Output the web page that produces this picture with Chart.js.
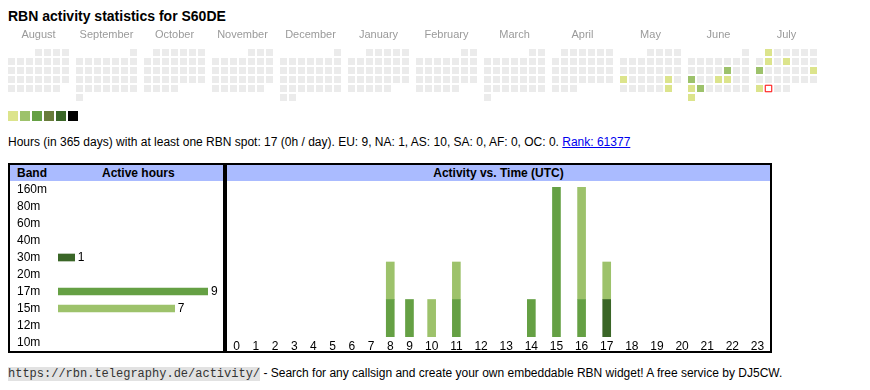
<!DOCTYPE html>
<html>
<head>
<meta charset="utf-8">
<title>RBN activity statistics for S60DE</title>
<script src="https://cdn.jsdelivr.net/npm/chart.js@4.4.1/dist/chart.umd.min.js"></script>
<style>
  body { margin: 0; background: #fff; font-family: "Liberation Sans", Arial, sans-serif; color: #000; }
  #page { position: relative; width: 870px; height: 390px; overflow: hidden; }
  h1 { position: absolute; left: 8px; top: 8px; margin: 0; font-size: 14px; line-height: 16px; font-weight: bold; white-space: nowrap; }
  canvas { position: absolute; display: block; }
  #calendarChart { left: 0; top: 0; }
  .key { position: absolute; top: 111px; width: 10px; height: 10px; }
  #info { position: absolute; left: 8px; top: 135px; font-size: 12px; line-height: 14px; white-space: nowrap; }
  #info a { color: #0000ee; }
  .box { position: absolute; top: 163px; height: 186px; border: 2px solid #000; }
  #bandBox { left: 8px; width: 213px; }
  #timeBox { left: 225px; width: 543px; }
  .head { position: absolute; left: 0; right: 0; top: 0; height: 16px; background: #aabbff; font-size: 12px; line-height: 16px; font-weight: bold; white-space: nowrap; }
  .head span { position: absolute; top: 0; }
  .box canvas { left: 0; top: 16px; }
  #footer { position: absolute; left: 8px; top: 365px; font-size: 12px; line-height: 16px; white-space: nowrap; }
  #footer code { font-family: "Liberation Mono", "Courier New", monospace; font-size: 12px; background: #e2e2e2; color: #333; }
</style>
</head>
<body>
<div id="page">
  <h1>RBN activity statistics for S60DE</h1>
  <canvas id="calendarChart" width="870" height="110"></canvas>
  <div id="keyRow"></div>
  <div id="info">Hours (in 365 days) with at least one RBN spot: 17 (0h / day). EU: 9, NA: 1, AS: 10, SA: 0, AF: 0, OC: 0. <a href="#">Rank: 61377</a></div>

  <div class="box" id="bandBox">
    <div class="head"><span style="left:7px">Band</span><span style="left:128px;width:0;text-align:center"><span style="position:relative;left:-36px">Active hours</span></span></div>
    <canvas id="bandChart" width="213" height="170"></canvas>
  </div>

  <div class="box" id="timeBox">
    <div class="head" style="text-align:center">Activity vs. Time (UTC)</div>
    <canvas id="timeChart" width="543" height="170"></canvas>
  </div>

  <div id="footer"><code>https://rbn.telegraphy.de/activity/</code> - Search for any callsign and create your own embeddable RBN widget! A free service by DJ5CW.</div>
</div>

<script>
// calendar (Aug 2024 - Jul 2025)
const months = ['August', 'September', 'October', 'November', 'December', 'January',
  'February', 'March', 'April', 'May', 'June', 'July'];
const levelColors = ['#dce48c', '#9dc26b', '#65a044', '#687c3a', '#3a6627', '#000000'];
const activeDays = ['2025-05-19', '2025-05-24', '2025-05-31', '2025-06-13', '2025-06-16',
  '2025-06-19', '2025-06-20', '2025-06-23', '2025-06-24', '2025-06-30', '2025-07-01',
  '2025-07-08', '2025-07-10', '2025-07-14', '2025-07-20', '2025-07-28'];
const activeLevels = [1, 1, 1, 2, 2, 1, 1, 1, 2, 1, 1, 1, 1, 2, 1, 1];
const todayDate = '2025-07-29';

// bands
const bands = ['160m', '80m', '60m', '40m', '30m', '20m', '17m', '15m', '12m', '10m'];
const bandHours = [0, 0, 0, 0, 1, 0, 9, 7, 0, 0];
const bandColors = ['#c9d77a', '#b5cf72', '#a7c76c', '#8fb35a', '#3a6627', '#557f35', '#65a044', '#9dc26b', '#bcd47c', '#cddc84'];

// activity vs. time, per band (stack order bottom -> top)
const hours = ['0', '1', '2', '3', '4', '5', '6', '7', '8', '9', '10', '11',
  '12', '13', '14', '15', '16', '17', '18', '19', '20', '21', '22', '23'];
const hours30m = [0, 0, 0, 0, 0, 0, 0, 0, 0, 0, 0, 0, 0, 0, 0, 0, 0, 1, 0, 0, 0, 0, 0, 0];
const hours17m = [0, 0, 0, 0, 0, 0, 0, 0, 1, 1, 0, 1, 0, 0, 1, 4, 1, 0, 0, 0, 0, 0, 0, 0];
const hours15m = [0, 0, 0, 0, 0, 0, 0, 0, 1, 0, 1, 1, 0, 0, 0, 0, 3, 1, 0, 0, 0, 0, 0, 0];

Chart.defaults.font.family = '"Liberation Sans", Arial, sans-serif';
Chart.defaults.font.size = 12;
Chart.defaults.color = '#000';
Chart.defaults.animation = false;
Chart.defaults.events = [];
Chart.defaults.plugins.legend.display = false;
Chart.defaults.plugins.tooltip.enabled = false;

const GREY = '#ebebeb';
const blockStride = 68 / 9; // month block width in cell units

// labels must not shrink the plot area
const noLabelPadding = s => {
  s.paddingLeft = 0;
  s.paddingRight = 0;
  s.paddingTop = 0;
  s.paddingBottom = 0;
};

// --- calendar heatmap ---
try {
  const cells = [];
  const colors = [];
  let today = null;
  for (let m = 0; m < 12; m++) {
    const year = m < 5 ? 2024 : 2025;
    const mon = (7 + m) % 12;
    const first = (new Date(Date.UTC(year, mon, 1)).getUTCDay() + 6) % 7;
    const days = new Date(Date.UTC(year, mon + 1, 0)).getUTCDate();
    for (let d = 1; d <= days; d++) {
      const slot = first + d - 1;
      const pt = { x: m * blockStride + slot % 7, y: Math.floor(slot / 7) };
      const iso = `${year}-${String(mon + 1).padStart(2, '0')}-${String(d).padStart(2, '0')}`;
      if (iso === todayDate) { today = pt; continue; }
      const k = activeDays.indexOf(iso);
      cells.push(pt);
      colors.push(k >= 0 ? levelColors[activeLevels[k] - 1] : GREY);
    }
  }

  new Chart(document.getElementById('calendarChart'), {
    type: 'scatter',
    data: {
      datasets: [
        { data: cells, pointStyle: 'rect', pointRadius: 4.95,
          pointBackgroundColor: colors, pointBorderWidth: 0, order: 2 },
        { data: today ? [today] : [], pointStyle: 'rect', pointRadius: 4.6,
          pointBackgroundColor: '#ffffff', pointBorderColor: '#ff0000', pointBorderWidth: 1, order: 1 }
      ]
    },
    options: {
      responsive: false,
      layout: { padding: { left: 7, right: 52, top: 28, bottom: 8 } },
      scales: {
        x: {
          type: 'linear', position: 'top',
          min: -0.5, max: 11 * blockStride + 6.5,
          grid: { display: false, drawTicks: false }, border: { display: false },
          afterBuildTicks: s => { s.ticks = months.map((_, m) => ({ value: m * blockStride + 3 })); },
          afterFit: s => { s.height = 20; noLabelPadding(s); },
          ticks: { autoSkip: false, maxRotation: 0, padding: 6.5, color: '#9a9a9a',
            font: { size: 11 }, callback: (v, i) => months[i] }
        },
        y: { display: false, reverse: true, min: -0.5, max: 5.5 }
      }
    }
  });

  const keyRow = document.getElementById('keyRow');
  levelColors.forEach((c, i) => {
    const sq = document.createElement('div');
    sq.className = 'key';
    sq.style.left = (8 + i * 12) + 'px';
    sq.style.background = c;
    keyRow.appendChild(sq);
  });
} catch (err) {
  console.error('calendar error:', err);
}

// --- active hours per band ---
const valueLabels = {
  id: 'valueLabels',
  afterDatasetsDraw(chart) {
    const ctx = chart.ctx;
    ctx.save();
    ctx.font = '12px "Liberation Sans", Arial, sans-serif';
    ctx.fillStyle = '#000';
    ctx.textBaseline = 'middle';
    chart.getDatasetMeta(0).data.forEach((bar, i) => {
      if (bandHours[i] > 0) ctx.fillText(String(bandHours[i]), bar.x + 3, bar.y);
    });
    ctx.restore();
  }
};

try {
  new Chart(document.getElementById('bandChart'), {
    type: 'bar',
    data: {
      labels: bands,
      datasets: [{ data: bandHours.map(v => v || null), backgroundColor: bandColors, barThickness: 7, borderWidth: 0 }]
    },
    options: {
      responsive: false,
      indexAxis: 'y',
      layout: { padding: { left: 7, right: 15, top: 0, bottom: 0 } },
      scales: {
        x: { display: false, min: 0, max: Math.max(...bandHours) },
        y: {
          grid: { display: false, drawTicks: false }, border: { display: false },
          afterFit: s => { s.width = 41; noLabelPadding(s); },
          ticks: { crossAlign: 'far', padding: 0, autoSkip: false }
        }
      }
    },
    plugins: [valueLabels]
  });
} catch (err) {
  console.error('band chart error:', err);
}

// --- activity vs. time ---
try {
  // table-like columns: width follows the label text
  const mctx = document.createElement('canvas').getContext('2d');
  mctx.font = '12px "Liberation Sans", Arial, sans-serif';
  const cellPad = 15;
  const widths = hours.map(h => mctx.measureText(h).width + cellPad);
  const centers = [];
  let acc = 0;
  widths.forEach(w => { centers.push(acc + w / 2); acc += w; });

  const toPoints = arr => arr.map((v, i) => ({ x: centers[i], y: v || null }));
  const totals = hours.map((_, i) => hours30m[i] + hours17m[i] + hours15m[i]);

  new Chart(document.getElementById('timeChart'), {
    type: 'bar',
    data: {
      datasets: [
        { label: '30m', data: toPoints(hours30m), backgroundColor: bandColors[4] },
        { label: '17m', data: toPoints(hours17m), backgroundColor: bandColors[6] },
        { label: '15m', data: toPoints(hours15m), backgroundColor: bandColors[7] }
      ]
    },
    options: {
      responsive: false,
      datasets: { bar: { barThickness: 8, borderWidth: 0 } },
      layout: { padding: { left: 0, right: 0, top: 6, bottom: 0 } },
      scales: {
        x: {
          type: 'linear', stacked: true, offset: false, min: 0, max: acc,
          grid: { display: false, drawTicks: false }, border: { display: false },
          afterBuildTicks: s => { s.ticks = centers.map(c => ({ value: c })); },
          afterFit: s => { s.height = 14; noLabelPadding(s); },
          ticks: { autoSkip: false, maxRotation: 0, padding: 2, callback: (v, i) => hours[i] }
        },
        y: { display: false, stacked: true, min: 0, max: Math.max(...totals) }
      }
    }
  });
} catch (err) {
  console.error('time chart error:', err);
}
</script>
</body>
</html>
